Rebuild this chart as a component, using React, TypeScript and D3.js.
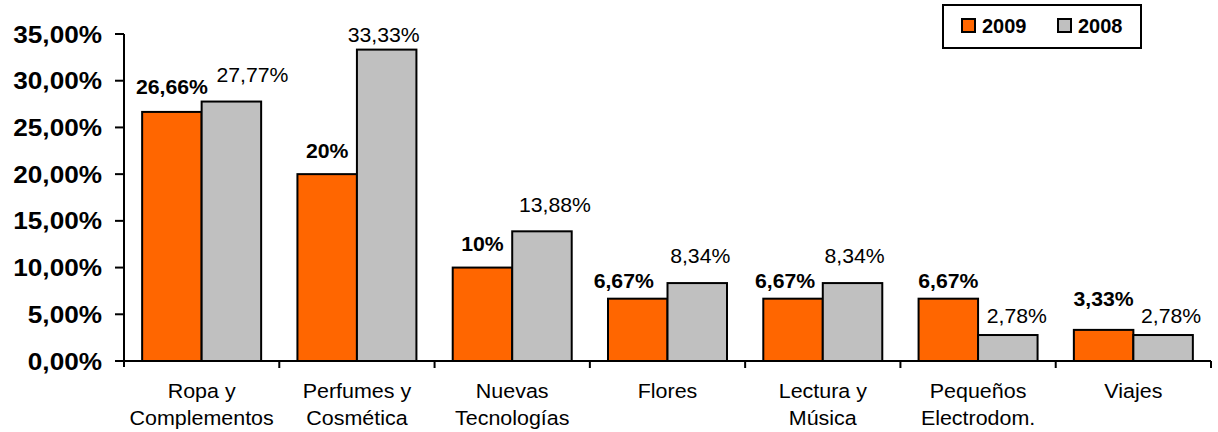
import React from "react";
import * as d3 from "d3";

// Category labels (two lines each)
const categories: string[][] = [
  ["Ropa y", "Complementos"],
  ["Perfumes y", "Cosmética"],
  ["Nuevas", "Tecnologías"],
  ["Flores"],
  ["Lectura y", "Música"],
  ["Pequeños", "Electrodom."],
  ["Viajes"],
];

const series = ["2009", "2008"];

const values2009 = [26.66, 20, 10, 6.67, 6.67, 6.67, 3.33];
const labels2009 = ["26,66%", "20%", "10%", "6,67%", "6,67%", "6,67%", "3,33%"];

const values2008 = [27.77, 33.33, 13.88, 8.34, 8.34, 2.78, 2.78];
const labels2008 = ["27,77%", "33,33%", "13,88%", "8,34%", "8,34%", "2,78%", "2,78%"];

const yTicks = [0, 5, 10, 15, 20, 25, 30, 35];
const yTickLabels = ["0,00%", "5,00%", "10,00%", "15,00%", "20,00%", "25,00%", "30,00%", "35,00%"];

// Hand-placed label nudges (px): horizontal shift and gap above bar top
const nudge2009 = { dx: [0, 0, 0, -14, -8, 0, 0], gap: [18, 16, 17, 11, 11, 11, 24] };
const nudge2008 = { dx: [21, -3, 13, 3, 2, 9, 8], gap: [20, 8, 19, 20, 20, 12, 12] };

const colors: Record<string, string> = { "2009": "#FF6600", "2008": "#C0C0C0" };

const W = 1218;
const H = 432;
const plotLeft = 124;
const plotRight = 1211;
const plotTop = 34;
const plotBottom = 361;
const SX = 1.1;
const FONT = "Arial, 'Liberation Sans', Helvetica, sans-serif";

function StretchText(props: {
  x: number;
  y: number;
  anchor?: string;
  size: number;
  bold?: boolean;
  children: React.ReactNode;
  sx?: number;
  dy?: string;
}) {
  const { x, y, anchor = "middle", size, bold, children, sx = SX, dy } = props;
  return (
    <text
      transform={`translate(${x},${y}) scale(${sx},1)`}
      textAnchor={anchor}
      fontSize={size}
      fontWeight={bold ? "bold" : "normal"}
      fontFamily={FONT}
      fill="#000"
      dy={dy}
    >
      {children}
    </text>
  );
}

export default function App() {
  const x0 = d3
    .scaleBand<number>()
    .domain(categories.map((_, i) => i))
    .range([plotLeft, plotRight])
    .padding(0);
  const x1 = d3
    .scaleBand<string>()
    .domain(series)
    .range([0, x0.bandwidth()])
    .paddingInner(0)
    .paddingOuter(0.305);
  const y = d3.scaleLinear().domain([0, 35]).range([plotBottom, plotTop]);

  const seriesData = [
    { key: "2009", values: values2009, labels: labels2009, nudge: nudge2009, bold: true },
    { key: "2008", values: values2008, labels: labels2008, nudge: nudge2008, bold: false },
  ];

  return (
    <svg width={W} height={H} style={{ display: "block", position: "absolute", left: 0, top: 0 }}>
      <rect x={0} y={0} width={W} height={H} fill="#fff" />

      {/* bars */}
      {seriesData.map((s) =>
        s.values.map((v, i) => (
          <rect
            key={`${s.key}-${i}`}
            x={(x0(i) ?? 0) + (x1(s.key) ?? 0)}
            y={y(v)}
            width={x1.bandwidth()}
            height={y(0) - y(v)}
            fill={colors[s.key]}
            stroke="#000"
            strokeWidth={2}
          />
        ))
      )}

      {/* value labels */}
      {seriesData.map((s) =>
        s.values.map((v, i) => (
          <StretchText
            key={`lbl-${s.key}-${i}`}
            x={(x0(i) ?? 0) + (x1(s.key) ?? 0) + x1.bandwidth() / 2 + s.nudge.dx[i]}
            y={y(v) - s.nudge.gap[i]}
            size={19.3}
            bold={s.bold}
          >
            {s.labels[i]}
          </StretchText>
        ))
      )}

      {/* y axis */}
      <line x1={plotLeft} x2={plotLeft} y1={plotTop} y2={plotBottom + 6} stroke="#000" strokeWidth={2} />
      {yTicks.map((t, i) => (
        <g key={`yt-${t}`}>
          <line x1={plotLeft - 9} x2={plotLeft} y1={y(t)} y2={y(t)} stroke="#000" strokeWidth={2} />
          <StretchText x={102} y={y(t)} anchor="end" size={23.8} bold dy="0.36em">
            {yTickLabels[i]}
          </StretchText>
        </g>
      ))}

      {/* x axis */}
      <line x1={plotLeft - 9} x2={plotRight} y1={plotBottom} y2={plotBottom} stroke="#000" strokeWidth={2} />
      {categories.map((_, i) => (
        <line
          key={`xt-${i}`}
          x1={(x0(i) ?? 0) + x0.bandwidth()}
          x2={(x0(i) ?? 0) + x0.bandwidth()}
          y1={plotBottom}
          y2={plotBottom + 7}
          stroke="#000"
          strokeWidth={2}
        />
      ))}
      {categories.map((lines, i) =>
        lines.map((ln, j) => (
          <StretchText
            key={`cat-${i}-${j}`}
            x={(x0(i) ?? 0) + x0.bandwidth() / 2}
            y={398 + j * 27}
            size={19.5}
          >
            {ln}
          </StretchText>
        ))
      )}

      {/* legend */}
      <rect x={943} y={5} width={198} height={43} fill="#fff" stroke="#000" strokeWidth={2} />
      {series.map((s, i) => {
        const lx = 962 + i * 96;
        return (
          <g key={`leg-${s}`}>
            <rect x={lx} y={19} width={13} height={13} fill={colors[s]} stroke="#000" strokeWidth={2} />
            <StretchText x={lx + 20} y={33} anchor="start" size={20} bold sx={1}>
              {s}
            </StretchText>
          </g>
        );
      })}
    </svg>
  );
}
